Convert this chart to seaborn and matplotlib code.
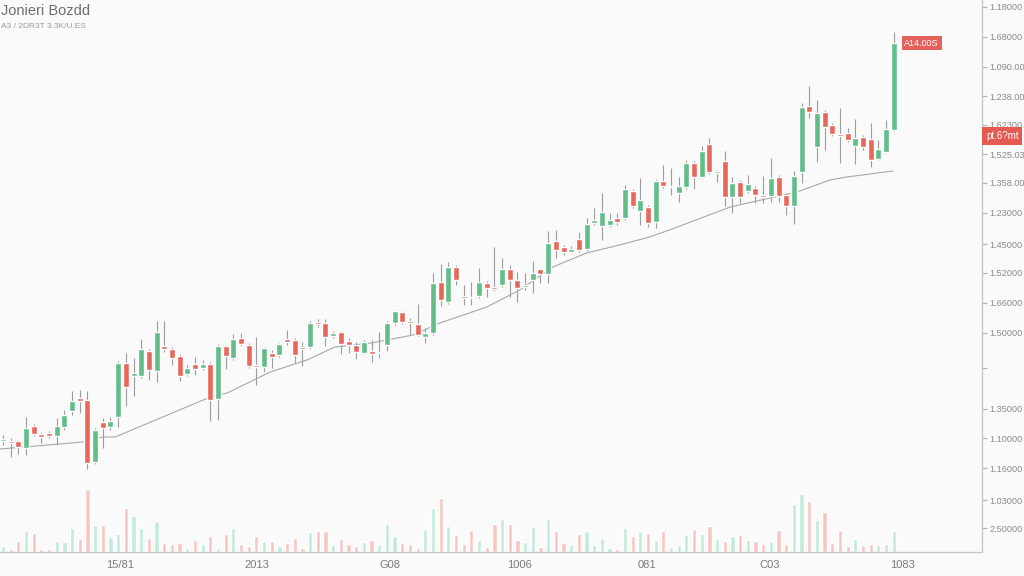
import matplotlib
matplotlib.use("Agg")
import matplotlib.pyplot as plt
import numpy as np
import pandas as pd
import seaborn as sns

# precos (unidades arbitrarias), um candle por indice
opens = [159, 159, 159, 152, 174, 166, 167, 164, 173, 189, 202, 200, 138, 178, 173, 183, 237, 224, 224, 249,
         229, 254, 251, 244, 226, 236, 232, 236, 201, 254, 242, 262, 255, 235, 233, 247, 245, 261, 260, 253,
         253, 278, 277, 264, 268, 259, 255, 247, 249, 247, 255, 277, 288, 279, 276, 263, 267, 318, 298, 333,
         304, 303, 304, 317, 313, 315, 331, 320, 313, 320, 331, 326, 359, 353, 348, 361, 351, 377, 374, 375,
         382, 382, 409, 389, 393, 378, 419, 413, 407, 413, 437, 423, 456, 427, 439, 403, 418, 409, 412, 405,
         404, 423, 405, 394, 428, 494, 453, 488, 475, 466, 467, 454, 463, 461, 441, 448, 470]
closes = [161, 157, 153, 172, 166, 163, 164, 174, 185, 199, 199, 137, 170, 172, 179, 237, 213, 227, 251, 230,
          268, 251, 242, 224, 232, 231, 236, 200, 254, 244, 261, 256, 234, 233, 252, 243, 256, 258, 245, 251,
          277, 276, 263, 267, 256, 255, 248, 258, 246, 248, 277, 289, 278, 277, 265, 267, 317, 300, 333, 320,
          302, 302, 318, 312, 311, 331, 320, 312, 315, 327, 326, 357, 350, 348, 351, 350, 376, 380, 388, 380,
          378, 411, 394, 400, 377, 419, 414, 414, 414, 437, 423, 449, 428, 429, 403, 417, 403, 416, 405, 403,
          422, 404, 394, 424, 493, 488, 487, 473, 466, 464, 460, 462, 453, 440, 451, 471, 557]
highs = [165, 162, 160, 183, 176, 167, 169, 182, 190, 209, 210, 209, 172, 182, 183, 239, 247, 242, 261, 251,
         279, 279, 253, 246, 235, 243, 240, 238, 256, 255, 266, 267, 257, 263, 253, 250, 257, 270, 262, 258,
         279, 281, 281, 269, 269, 262, 258, 260, 260, 268, 279, 290, 289, 282, 296, 272, 327, 336, 338, 335,
         315, 318, 332, 319, 353, 342, 335, 328, 327, 339, 332, 369, 370, 355, 354, 368, 382, 392, 407, 387,
         387, 415, 411, 422, 395, 421, 435, 432, 423, 440, 439, 454, 462, 430, 449, 423, 420, 425, 414, 424,
         442, 425, 407, 429, 497, 514, 500, 490, 477, 492, 472, 481, 465, 477, 460, 480, 568]
lows = [155, 143, 146, 145, 164, 157, 162, 155, 170, 185, 187, 131, 136, 152, 170, 173, 194, 204, 222, 220,
        218, 248, 235, 219, 224, 225, 230, 179, 180, 231, 240, 254, 232, 215, 228, 232, 243, 255, 237, 234,
        251, 273, 254, 262, 246, 247, 241, 246, 238, 242, 249, 275, 276, 265, 264, 257, 265, 294, 296, 315,
        295, 295, 302, 303, 309, 313, 303, 298, 310, 307, 317, 317, 342, 345, 347, 348, 349, 375, 360, 373,
        375, 380, 392, 375, 373, 372, 412, 405, 398, 411, 411, 422, 426, 418, 394, 387, 397, 407, 397, 397,
        398, 398, 385, 376, 417, 482, 438, 450, 464, 437, 458, 436, 450, 433, 440, 447, 469]
volumes = [6, 3, 11, 21, 19, 3.5, 3, 11, 10, 24, 13, 63, 27, 27, 15, 18, 44, 36, 24, 14,
           31, 9, 8, 9, 4, 12, 8, 16, 4, 18, 24, 8, 6, 16, 11, 11, 6, 9, 14, 4,
           20, 21, 21, 7, 13, 8, 6, 10, 12, 7, 28, 16, 9, 8, 4, 23, 44, 54, 26, 17,
           8, 22, 12, 5, 28, 33, 28, 12, 10, 25, 5, 33, 21, 9, 7, 18, 21, 7, 14, 4,
           3, 24, 16, 21, 19, 12, 21, 5, 7, 17, 23, 18, 26, 13, 11, 16, 17, 12, 11, 8,
           11, 22, 8, 48, 58, 51, 32, 40, 9, 22, 6, 13, 7, 8, 7, 8, 21]

ma_idx = [-0.4, 10.4, 13.0, 14.6, 27.0, 29.2, 34.8, 39.6, 43.2, 48.0, 53.4, 56.9, 63.0,
          67.3, 71.6, 76.0, 80.3, 84.2, 86.8, 94.7, 99.9, 103.4, 107.7, 109.9, 115.9]
ma_val = [151, 158, 163, 163, 203, 207, 228, 240, 253, 257, 265, 277, 293,
          310, 333, 347, 355, 363, 370, 393, 402, 408, 420, 423, 429]

x_ticks = [15.2, 33.1, 50.4, 67.2, 83.9, 99.9, 117.2]
x_labels = ["15/81", "2013", "G08", "1006", "081", "C03", "1083"]
y_ticks = [593, 563, 533, 504, 475, 446, 417, 387, 356, 327, 297, 267, 232, 191, 162, 132, 100, 72]
y_labels = ["1.18000", "1.68000", "1.090.00", "1.238.00", "1.62300", "1.525.03", "1.358.00", "1.23000",
            "1.45000", "1.52000", "1.66000", "1.50000", "", "1.35000", "1.10000", "1.16000", "1.03000", "2.50000"]

df = pd.DataFrame({"open": opens, "close": closes, "high": highs, "low": lows, "volume": volumes})
df["idx"] = np.arange(len(df))
df["up"] = df["close"] >= df["open"]

sns.set_theme(style="white")
plt.rcParams['font.family'] = ['Liberation Sans', 'DejaVu Sans']

GREEN = "#62bd88"
RED = "#e8675b"
VGREEN = "#c3eadb"
VRED = "#f8c6c2"
BG = "#fafafa"

fig = plt.figure(figsize=(10.24, 5.76), dpi=100)
fig.patch.set_facecolor(BG)
ax = fig.add_axes([0, 24 / 576, 982 / 1024, 552 / 576])
vol_ax = ax.twinx()

# volume atras dos candles
vol_ax.bar(df["idx"], df["volume"], width=0.55,
           color=[VGREEN if u else VRED for u in df["up"]], zorder=1)
vol_ax.set_ylim(0, 552)
vol_ax.set_yticks([])
vol_ax.set_facecolor(BG)
for s in vol_ax.spines.values():
    s.set_visible(False)
ax.set_zorder(vol_ax.get_zorder() + 1)
ax.patch.set_visible(False)

# pavios e corpos
ax.vlines(df["idx"], df["low"], df["high"], color="#9c9c9c", linewidth=0.8, zorder=2)
body_bottom = np.minimum(df["open"], df["close"])
body_height = np.maximum((df["close"] - df["open"]).abs(), 1.3)
ax.bar(df["idx"], body_height, bottom=body_bottom, width=0.78,
       color=[GREEN if u else RED for u in df["up"]], zorder=3)

sns.lineplot(x=ma_idx, y=ma_val, ax=ax, color="#a8a8a8", linewidth=0.8, zorder=2)

ax.set_xlim(-0.39, 127.5)
ax.set_ylim(48, 600)

ax.set_xticks(x_ticks)
ax.set_xticklabels(x_labels, fontsize=8, color="#7a7a7a")
ax.yaxis.tick_right()
ax.set_yticks(y_ticks)
ax.set_yticklabels(y_labels, fontsize=6.6, color="#8a8a8a")
ax.tick_params(axis="both", direction="out", length=3.5, width=0.8, color="#b0b0b0", pad=2)
for side in ["left", "top"]:
    ax.spines[side].set_visible(False)
for side in ["right", "bottom"]:
    ax.spines[side].set_color("#c4c4c4")
    ax.spines[side].set_linewidth(0.9)

# etiquetas de preco
ax.text(1.004, 464, "pt.6?mt", transform=ax.get_yaxis_transform(), fontsize=7, color="white",
        va="center", ha="left", clip_on=False,
        bbox=dict(boxstyle="square,pad=0.4", facecolor="#e55a50", edgecolor="none"))
ax.text(117.4, 557, "A14.00S", fontsize=6.5, color="white", va="center", ha="left",
        bbox=dict(boxstyle="square,pad=0.3", facecolor="#e4605a", edgecolor="none"))

fig.text(0.001, 1 - 11 / 576, "Jonieri Bozdd", fontsize=10.5, color="#6f6f6f", va="center", ha="left")
fig.text(0.001, 1 - 26 / 576, "A3 / 2DR3T 3.3K/U.ES", fontsize=6, color="#9a9a9a", va="center", ha="left")

fig.savefig("out.png", dpi=100, facecolor=BG)
